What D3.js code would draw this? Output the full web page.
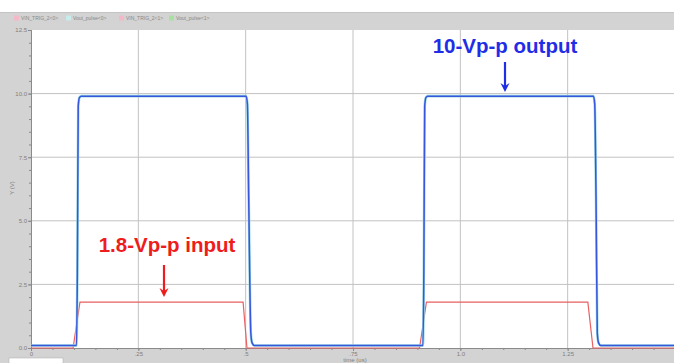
<!DOCTYPE html>
<html>
<head>
<meta charset="utf-8">
<script src="https://cdn.jsdelivr.net/npm/d3@7"></script>
<style>
  body { margin: 0; background: white; }
  text { font-family: "Liberation Sans", Arial, sans-serif; }
</style>
</head>
<body>
<div id="vis"></div>
<script>
// data (time in us, volts)
let inTime  = [0, 0.098, 0.114, 0.494, 0.503, 0.905, 0.921, 1.297, 1.309, 1.5];
let inVolts = [0, 0,     1.8,   1.8,   0,     0,     1.8,   1.8,   0,     0];

let outTime  = [0, 0.106, 0.108, 0.110, 0.113, 0.117, 0.501, 0.504, 0.507, 0.512, 0.515, 0.520,
                0.913, 0.915, 0.917, 0.920, 0.924, 1.310, 1.313, 1.316, 1.319, 1.322, 1.327, 1.5];
let outVolts = [0.1, 0.1,  3.0,   9.5,   9.85,  9.9,   9.9,   9.6,   6.0,   0.6,   0.2,   0.1,
                0.1,  3.0,   9.5,   9.85,  9.9,   9.9,   9.6,   6.0,   0.6,   0.2,   0.1,   0.1];

let yTicks = [0, 2.5, 5, 7.5, 10, 12.5];
let yTickLabels = ['0.0', '2.5', '5.0', '7.5', '10.0', '12.5'];
let xTicks = [0, 0.25, 0.5, 0.75, 1.0, 1.25];
let xTickLabels = ['0', '.25', '.5', '.75', '1.0', '1.25'];
let legendNames = ['VIN_TRIG_2<0>', 'Vout_pulse<0>', 'VIN_TRIG_2<1>', 'Vout_pulse<1>'];
let legendColors = ['#f4b8c8', '#c8ecec', '#f4b8c8', '#a8e0a0'];

let W = 674, H = 363;
let plot = { left: 31, top: 30, right: 674, bottom: 348 };

let svg = d3.select('#vis')
  .append('svg')
  .attr('width', W)
  .attr('height', H)
  .style('display', 'block');

// grey frame around the plot
svg.append('rect').attr('x', 0).attr('y', 12).attr('width', W).attr('height', H - 12).attr('fill', '#d3d3d3');
svg.append('line').attr('x1', 0).attr('x2', W).attr('y1', 12.5).attr('y2', 12.5).attr('stroke', '#c4c4c4');
svg.append('rect')
  .attr('x', plot.left).attr('y', plot.top)
  .attr('width', plot.right - plot.left).attr('height', plot.bottom - plot.top)
  .attr('fill', 'white');

let x = d3.scaleLinear().domain([0, 1.5]).range([plot.left, plot.right + 1]);
let y = d3.scaleLinear().domain([0, 12.5]).range([plot.bottom, plot.top]);

// grid
svg.append('g').selectAll('line').data(xTicks.slice(1)).join('line')
  .attr('x1', d => x(d)).attr('x2', d => x(d))
  .attr('y1', plot.top).attr('y2', plot.bottom)
  .attr('stroke', '#c2c2c2').attr('stroke-width', 1);
svg.append('g').selectAll('line').data(yTicks.slice(1, -1)).join('line')
  .attr('x1', plot.left).attr('x2', plot.right)
  .attr('y1', d => y(d)).attr('y2', d => y(d))
  .attr('stroke', '#c2c2c2').attr('stroke-width', 1);

// axes
svg.append('g')
  .attr('transform', `translate(${plot.left},0)`)
  .call(d3.axisLeft(y).tickValues(d3.range(0, 12.51, 0.5)).tickSize(2).tickFormat(''));
svg.append('g')
  .attr('transform', `translate(${plot.left},0)`)
  .call(d3.axisLeft(y).tickValues(yTicks).tickSize(3).tickPadding(1)
    .tickFormat((d, i) => yTickLabels[i]));
svg.append('g')
  .attr('transform', `translate(0,${plot.bottom})`)
  .call(d3.axisBottom(x).tickValues(d3.range(0, 1.5, 0.05)).tickSize(2).tickFormat(''));
svg.append('g')
  .attr('transform', `translate(0,${plot.bottom})`)
  .call(d3.axisBottom(x).tickValues(xTicks).tickSize(3).tickPadding(1)
    .tickFormat((d, i) => xTickLabels[i]));

svg.selectAll('.domain').attr('stroke', '#8a8a8a');
svg.selectAll('.tick line').attr('stroke', '#8a8a8a');
svg.selectAll('.tick text').attr('fill', '#808080').style('font-size', '6px');

svg.append('text')
  .attr('transform', `translate(14,188) rotate(-90)`)
  .attr('text-anchor', 'middle')
  .style('font-size', '6px').attr('fill', '#808080')
  .text('Y (V)');
svg.append('text')
  .attr('x', 355).attr('y', 362)
  .attr('text-anchor', 'middle')
  .style('font-size', '6px').attr('fill', '#808080')
  .text('time (us)');

// small white box bottom-left
svg.append('rect').attr('x', 9).attr('y', 358).attr('width', 54).attr('height', 6)
  .attr('fill', 'white').attr('stroke', '#aaa').attr('stroke-width', 0.5);

// legend strip
let leg = svg.append('g').selectAll('g').data(legendNames).join('g')
  .attr('transform', (d, i) => `translate(${[14, 66, 119, 169][i]},18)`);
leg.append('rect').attr('x', 0).attr('y', -2.5).attr('width', 5).attr('height', 5)
  .attr('fill', (d, i) => legendColors[i]);
leg.append('text').attr('x', 7).attr('y', 2)
  .style('font-size', '5px').attr('fill', '#888')
  .text(d => d);

// traces
let line = d3.line().x(d => x(d[0])).y(d => y(d[1]));

svg.append('path')
  .datum(inTime.map((t, i) => [t, inVolts[i]]))
  .attr('d', line)
  .attr('fill', 'none')
  .attr('stroke', '#e86060')
  .attr('stroke-width', 1.2);

svg.append('path')
  .datum(outTime.map((t, i) => [t, outVolts[i]]))
  .attr('d', line.curve(d3.curveMonotoneX))
  .attr('fill', 'none')
  .attr('stroke', '#9cd8e4')
  .attr('stroke-width', 2.6);

svg.append('path')
  .datum(outTime.map((t, i) => [t, outVolts[i]]))
  .attr('d', line.curve(d3.curveMonotoneX))
  .attr('fill', 'none')
  .attr('stroke', '#3656dc')
  .attr('stroke-width', 1.5);

// annotations
function arrow(cx, y1, y2, color) {
  svg.append('line')
    .attr('x1', cx).attr('x2', cx).attr('y1', y1).attr('y2', y2 - 6)
    .attr('stroke', color).attr('stroke-width', 2.2);
  svg.append('path')
    .attr('d', `M${cx - 4.5},${y2 - 9} L${cx},${y2} L${cx + 4.5},${y2 - 9} L${cx},${y2 - 6} Z`)
    .attr('fill', color);
}

svg.append('text')
  .attr('x', 505).attr('y', 53)
  .attr('text-anchor', 'middle')
  .style('font-size', '20.5px').style('font-weight', 'bold')
  .attr('fill', '#1f2ee6')
  .text('10-Vp-p output');
arrow(505, 62, 92, '#1f2ee6');

svg.append('text')
  .attr('x', 167).attr('y', 252)
  .attr('text-anchor', 'middle')
  .style('font-size', '20.5px').style('font-weight', 'bold')
  .attr('fill', '#ee1c1c')
  .text('1.8-Vp-p input');
arrow(164, 265, 297, '#ee1c1c');
</script>
</body>
</html>
